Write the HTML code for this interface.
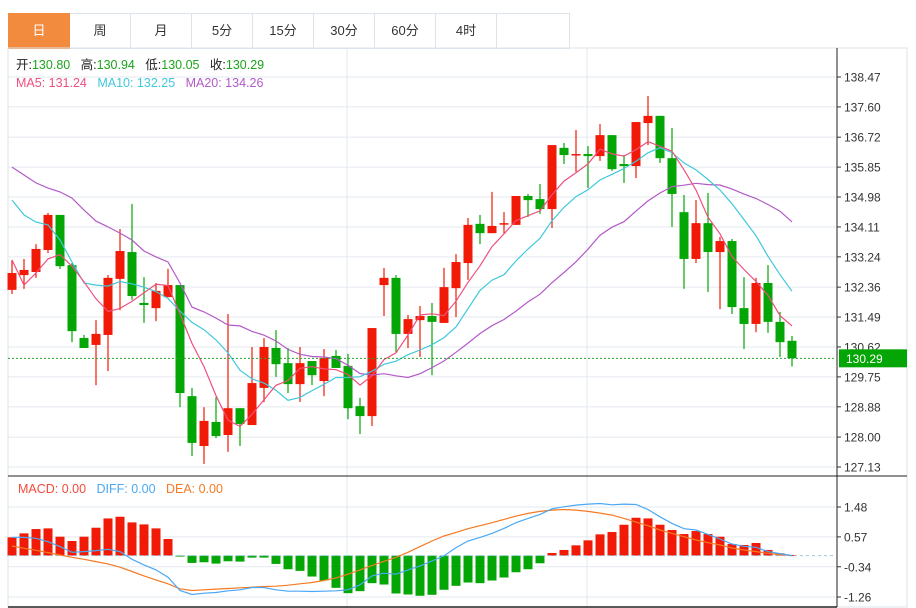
<!DOCTYPE html>
<html><head><meta charset="utf-8"><style>
body{margin:0;background:#fff;width:916px;height:608px;overflow:hidden;font-family:"Liberation Sans","Noto Sans CJK SC",sans-serif}
#tabs{position:absolute;left:8px;top:13px;height:35px;display:flex}
.tab{width:60px;height:34px;border:1px solid #dde3ea;border-left:none;line-height:34px;text-align:center;font-size:13px;color:#333}
.tab:first-child{border-left:1px solid #dde3ea}
.tab.on{background:#f28b3e;color:#fff;border-color:#f28b3e}
svg{position:absolute;left:0;top:0}
</style></head><body>
<div id="tabs">
<div class="tab on">日</div>
<div class="tab">周</div>
<div class="tab">月</div>
<div class="tab">5分</div>
<div class="tab">15分</div>
<div class="tab">30分</div>
<div class="tab">60分</div>
<div class="tab">4时</div>
<div class="tab" style="width:72px"></div>
</div>
<svg id="chart" width="916" height="608"></svg>
<script>
const opens=[132.28,132.71,132.80,133.44,134.46,133.00,130.88,130.68,130.97,132.60,133.38,131.90,131.75,132.07,132.42,129.19,127.74,128.44,128.06,128.84,128.35,129.43,130.59,130.15,129.54,130.21,129.63,130.36,130.07,128.90,128.61,132.42,132.63,131.00,131.40,131.52,131.32,132.33,133.06,134.20,133.93,134.20,134.17,135.01,134.92,134.63,136.41,136.20,136.23,136.17,136.78,135.94,135.88,137.13,137.34,136.11,134.54,133.18,134.22,133.38,133.70,131.75,131.29,132.48,131.35,130.80];
const highs=[133.15,133.18,133.61,134.52,134.46,133.06,130.97,131.40,132.71,134.05,134.78,132.65,132.48,132.89,132.42,129.43,128.87,129.16,131.58,128.84,130.62,130.88,131.11,130.59,130.62,130.21,130.56,130.53,130.42,129.14,131.17,132.92,132.71,131.55,131.81,131.90,132.92,133.32,134.37,134.46,135.13,134.54,135.01,135.07,135.36,136.49,136.55,136.93,136.46,137.10,136.78,136.20,137.16,137.92,137.34,136.99,135.04,134.89,135.10,133.82,133.76,132.65,132.63,133.00,131.64,130.94];
const lows=[132.16,132.31,132.63,133.35,132.89,130.76,130.59,129.51,129.92,131.69,131.99,131.32,131.37,132.07,128.87,127.45,127.22,127.97,127.57,127.74,128.35,129.02,129.75,129.28,129.02,129.51,129.19,130.01,128.52,128.09,128.32,131.52,130.47,130.59,130.33,129.80,131.32,131.49,132.57,133.61,133.93,133.93,134.17,134.40,134.49,134.08,135.94,135.71,135.24,136.03,135.74,135.39,135.53,136.49,135.97,134.11,132.31,133.06,132.22,131.72,131.58,130.56,131.05,131.03,130.33,130.05];
const closes=[132.77,132.86,133.47,134.46,132.97,131.08,130.59,131.00,132.63,133.41,132.10,131.84,132.25,132.42,129.28,127.83,128.47,128.03,128.84,128.38,129.57,130.62,130.12,129.54,130.15,129.80,130.30,130.01,128.84,128.61,131.17,132.63,131.00,131.43,131.52,131.35,132.36,133.09,134.17,133.93,134.14,134.22,135.01,134.89,134.63,136.49,136.20,136.23,136.17,136.78,135.79,135.88,137.16,137.34,136.11,135.07,133.18,134.22,133.38,133.70,131.78,131.29,132.48,131.35,130.76,130.29];
// moving-average values before enough history is visible
const ma5Lead=[133.15,132.42,132.77,133.18];
const ma10Lead=[134.89,134.46,134.25,134.17,133.73,133.09,132.48,132.42,132.39];
const ma20Lead=[135.85,135.62,135.39,135.24,135.13,134.95,134.60,134.28,134.11,133.93,133.73,133.41,133.24,133.09,132.48,131.78,131.64,131.46,131.26];
const macdHist=[0.556,0.677,0.809,0.829,0.576,0.445,0.576,0.849,1.132,1.183,1.011,0.950,0.829,0.506,-0.03,-0.222,-0.202,-0.243,-0.172,-0.182,-0.061,-0.061,-0.253,-0.415,-0.465,-0.637,-0.758,-0.981,-1.143,-1.082,-0.839,-0.880,-1.153,-1.183,-1.223,-1.193,-1.04,-0.920,-0.819,-0.839,-0.758,-0.667,-0.506,-0.415,-0.233,0.081,0.172,0.313,0.465,0.647,0.718,0.940,1.153,1.132,0.940,0.779,0.657,0.748,0.657,0.576,0.354,0.324,0.384,0.172,0.071,0.02];
const diffVals=[0.556,0.556,0.526,0.425,0.273,0.10,0.121,0.152,0.192,0.121,-0.111,-0.283,-0.435,-0.657,-1.062,-1.183,-1.143,-1.122,-1.072,-1.041,-0.971,-0.971,-1.041,-1.082,-1.082,-1.092,-1.082,-1.072,-1.041,-0.890,-0.617,-0.536,-0.566,-0.435,-0.313,-0.162,-0.01,0.243,0.445,0.556,0.677,0.829,1.001,1.132,1.254,1.426,1.487,1.537,1.567,1.587,1.547,1.567,1.557,1.405,1.183,0.981,0.819,0.779,0.647,0.506,0.354,0.283,0.253,0.121,0.061,0];
const deaVals=[0.293,0.222,0.162,0.091,0.02,-0.051,-0.111,-0.182,-0.253,-0.354,-0.485,-0.617,-0.738,-0.859,-1.011,-1.062,-1.041,-1.021,-1.001,-0.981,-0.961,-0.940,-0.930,-0.900,-0.859,-0.819,-0.758,-0.677,-0.566,-0.435,-0.303,-0.172,-0.051,0.101,0.273,0.445,0.597,0.708,0.819,0.910,1.001,1.102,1.203,1.284,1.345,1.385,1.405,1.385,1.345,1.294,1.234,1.132,1.021,0.910,0.779,0.677,0.576,0.475,0.394,0.324,0.233,0.172,0.121,0.071,0.03,0];
const priceTicks=["138.47","137.60","136.72","135.85","134.98","134.11","133.24","132.36","131.49","130.62","129.75","128.88","128.00","127.13"];
const macdTicks=["1.48","0.57","-0.34","-1.26"];

const NS='http://www.w3.org/2000/svg';
const svg=document.getElementById('chart');
function mk(tag,attrs,parent){const e=document.createElementNS(NS,tag);for(const k in attrs)e.setAttribute(k,attrs[k]);(parent||svg).appendChild(e);return e;}
const PL=8,PR=836,PT=48,PB=476;
const pMax=138.47,pMin=127.13,yTop=77,yBot=467;
const yP=p=>yTop+(pMax-p)*(yBot-yTop)/(pMax-pMin);
const mMax=1.48,mMin=-1.26,mTop=507,mBot=597;
const yM=v=>mTop+(mMax-v)*(mBot-mTop)/(mMax-mMin);
const N=closes.length;
const xC=i=>12+i*(792-12)/(N-1);

// frame
let e;
e=mk('rect',{x:8,y:48,width:899,height:559,fill:'none',stroke:'#dde3ea'});

mk('line',{x1:8,y1:77,x2:836,y2:77,stroke:'#e3e9ef'});
// price grid + ticks
priceTicks.forEach((t,i)=>{const v=parseFloat(t);const y=yP(v);
 if(i>0){const g=mk('line',{x1:PL,y1:y,x2:PR,y2:y,stroke:'#e3e9ef'});}
 mk('line',{x1:837,y1:y,x2:841,y2:y,stroke:'#333'});
 const tx=mk('text',{x:844,y:y+4.5,'font-size':12,fill:'#333'});tx.textContent=t;
 
});
[347,587].forEach(x=>{mk('line',{x1:x,y1:PT,x2:x,y2:607,stroke:'#e3e9ef'});});
macdTicks.forEach(t=>{const y=yM(parseFloat(t));
 mk('line',{x1:PL,y1:y,x2:PR,y2:y,stroke:'#e3e9ef'});
 mk('line',{x1:837,y1:y,x2:841,y2:y,stroke:'#333'});
 const tx=mk('text',{x:844,y:y+4.5,'font-size':12,fill:'#333'});tx.textContent=t;
 
});
// axes
e=mk('line',{x1:837,y1:PT,x2:837,y2:607,stroke:'#222'});
mk('line',{x1:8,y1:PB,x2:907,y2:PB,stroke:'#222'});
mk('line',{x1:8,y1:607,x2:837,y2:607,stroke:'#222','stroke-width':1.5});

// candles
for(let i=0;i<N;i++){
 const up=closes[i]>=opens[i];const col=up?'#f01a06':'#03a604';
 const g=mk('g',{});
 
 
 const x=xC(i);
 mk('line',{x1:x,y1:yP(highs[i]),x2:x,y2:yP(lows[i]),stroke:col,'stroke-width':1.2},g);
 const t=yP(Math.max(opens[i],closes[i])),b=yP(Math.min(opens[i],closes[i]));
 mk('rect',{x:x-4.5,y:t,width:9,height:Math.max(b-t,1.5),fill:col},g);
}
// MAs
function ma(n,lead){const r=[];for(let i=0;i<N;i++){if(i<n-1){r.push(lead[i]);}else{let s=0;for(let k=i-n+1;k<=i;k++)s+=closes[k];r.push(s/n);}}return r;}
function line(vals,yf,col,name){const p=vals.map((v,i)=>xC(i).toFixed(1)+','+yf(v).toFixed(1)).join(' ');
 const l=mk('polyline',{points:p,fill:'none',stroke:col,'stroke-width':1.2});
 }
line(ma(20,ma20Lead),yP,'#b35ac8','ma20-line');
line(ma(10,ma10Lead),yP,'#3fc8dc','ma10-line');
line(ma(5,ma5Lead),yP,'#ef4f7f','ma5-line');
// last price line + label
const lp=yP(closes[N-1]);
e=mk('line',{x1:PL,y1:lp,x2:PR,y2:lp,stroke:'#2aa52a','stroke-dasharray':'2,2'});

e=mk('rect',{x:839,y:lp-9,width:68,height:18,fill:'#03a604'});

e=mk('text',{x:846,y:lp+4.5,'font-size':12,fill:'#fff'});e.textContent=closes[N-1].toFixed(2);


// MACD
const z=yM(0);
for(let i=0;i<N;i++){const v=macdHist[i];const y=yM(v);
 const r=mk('rect',{x:xC(i)-4.5,y:Math.min(y,z),width:9,height:Math.max(Math.abs(y-z),1),fill:v>=0?'#f01a06':'#03a604'});
 
 
}
e=mk('line',{x1:PL,y1:z,x2:PR,y2:z,stroke:'#9cc8e0','stroke-dasharray':'3,3'});

line(deaVals,yM,'#f57a23','dea-line');
line(diffVals,yM,'#4aa8f5','diff-line');

// header texts
function txt(x,y,parts,name){const t=mk('text',{x:x,y:y,'font-size':12.5});parts.forEach(p=>{const s=mk('tspan',{fill:p[1]},t);s.textContent=p[0];});}
txt(16,69,[['开:','#222'],['130.80   ','#1aa51a'],['高:','#222'],['130.94   ','#1aa51a'],['低:','#222'],['130.05   ','#1aa51a'],['收:','#222'],['130.29','#1aa51a']],'ohlc-legend');
svg.lastChild.setAttribute('xml:space','preserve');svg.lastChild.style.whiteSpace='pre';
txt(16,87,[['MA5: 131.24   ','#ef4f7f'],['MA10: 132.25   ','#3fc8dc'],['MA20: 134.26','#b35ac8']],'ma-legend');
svg.lastChild.style.whiteSpace='pre';
txt(18,493,[['MACD: 0.00   ','#f44a3a'],['DIFF: 0.00   ','#4aa8f5'],['DEA: 0.00','#f57a23']],'macd-legend');
svg.lastChild.style.whiteSpace='pre';
</script>
</body></html>
